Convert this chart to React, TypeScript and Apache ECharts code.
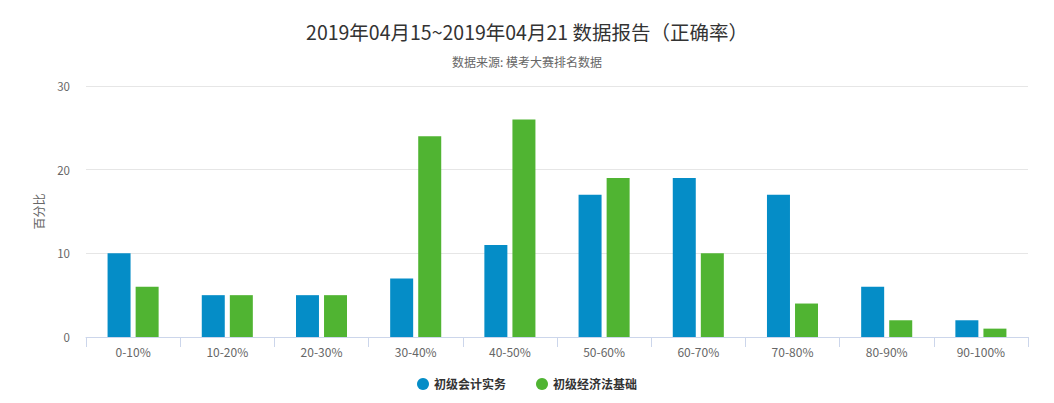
import React, { useEffect, useRef } from "react";
import * as echarts from "echarts";

const categories = ["0-10%", "10-20%", "20-30%", "30-40%", "40-50%", "50-60%", "60-70%", "70-80%", "80-90%", "90-100%"];
const seriesNames = ["初级会计实务", "初级经济法基础"];
const accountingValues = [10, 5, 5, 7, 11, 17, 19, 17, 6, 2];
const lawValues = [6, 5, 5, 24, 26, 19, 10, 4, 2, 1];
const titleText = "2019年04月15~2019年04月21 数据报告（正确率）";
const subtitleText = "数据来源: 模考大赛排名数据";
const yAxisName = "百分比";

const FONT = "'Noto Sans CJK SC', 'Noto Sans', sans-serif";

export default function App() {
  const ref = useRef<HTMLDivElement>(null);
  useEffect(() => {
    document.body.style.margin = "0";
    const chart = echarts.init(ref.current!, null, { renderer: "svg" });
    chart.setOption({
      animation: false,
      textStyle: { fontFamily: FONT },
      title: {
        text: titleText,
        subtext: subtitleText,
        left: "center",
        top: 17,
        itemGap: 14,
        textStyle: { fontSize: 19.5, fontWeight: "normal", color: "#333333", fontFamily: FONT },
        subtextStyle: { fontSize: 12, color: "#666666", fontFamily: FONT },
      },
      legend: {
        bottom: 8,
        left: "center",
        icon: "circle",
        itemWidth: 12,
        itemHeight: 12,
        itemGap: 30,
        textStyle: { fontSize: 12, fontWeight: "bold", color: "#333333", fontFamily: FONT },
        data: seriesNames,
      },
      grid: { left: 86, right: 26, top: 86, bottom: 66, containLabel: false },
      xAxis: {
        type: "category",
        data: categories,
        axisLine: { lineStyle: { color: "#ccd6eb" } },
        axisTick: { show: true, length: 10, lineStyle: { color: "#ccd6eb" }, alignWithLabel: false },
        axisLabel: { color: "#666666", fontSize: 12, margin: 8, fontFamily: FONT },
      },
      yAxis: {
        type: "value",
        min: 0,
        max: 30,
        interval: 10,
        name: yAxisName,
        nameLocation: "middle",
        nameGap: 42,
        nameRotate: 90,
        nameTextStyle: { color: "#666666", fontSize: 12, fontFamily: FONT },
        axisLine: { show: false },
        axisTick: { show: false },
        axisLabel: { color: "#666666", fontSize: 11.5, margin: 16, fontFamily: FONT },
        splitLine: { lineStyle: { color: "#e6e6e6" } },
      },
      series: [
        {
          name: seriesNames[0],
          type: "bar",
          data: accountingValues,
          itemStyle: { color: "#058DC7" },
          barWidth: 23,
          barGap: "22%",
        },
        {
          name: seriesNames[1],
          type: "bar",
          data: lawValues,
          itemStyle: { color: "#50B432" },
          barWidth: 23,
          barGap: "22%",
        },
      ],
    });
    return () => chart.dispose();
  }, []);
  return <div ref={ref} style={{ width: 1054, height: 403 }} />;
}
